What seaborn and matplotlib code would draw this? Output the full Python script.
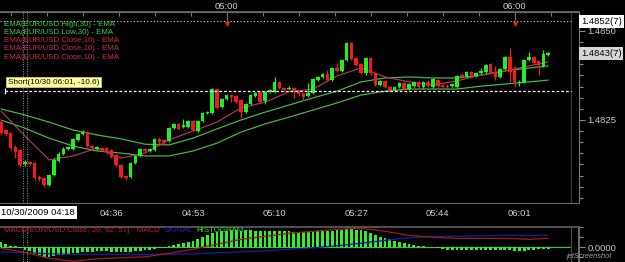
import numpy as np
import pandas as pd
import matplotlib
matplotlib.use("Agg")
import matplotlib.pyplot as plt
import matplotlib.transforms as mt
from matplotlib.ticker import FixedLocator
import seaborn as sns

# ---------------- data (EUR/USD 1-minute candles from 04:13) ----------------
start_time = "04:13"
opens = [1.48244, 1.48222, 1.48213, 1.48174, 1.48166, 1.48126, 1.48132, 1.48129, 1.48090, 1.48087,
         1.48067, 1.48095, 1.48135, 1.48154, 1.48168, 1.48168, 1.48194, 1.48211, 1.48216, 1.48177,
         1.48168, 1.48171, 1.48171, 1.48166, 1.48152, 1.48123, 1.48093, 1.48090, 1.48129, 1.48149,
         1.48168, 1.48163, 1.48166, 1.48197, 1.48194, 1.48191, 1.48227, 1.48239, 1.48230, 1.48230,
         1.48247, 1.48219, 1.48247, 1.48270, 1.48270, 1.48337, 1.48286, 1.48309, 1.48320, 1.48317,
         1.48306, 1.48272, 1.48295, 1.48317, 1.48329, 1.48303, 1.48329, 1.48329, 1.48357, 1.48340,
         1.48337, 1.48340, 1.48331, 1.48326, 1.48317, 1.48326, 1.48362, 1.48371, 1.48379, 1.48362,
         1.48396, 1.48388, 1.48419, 1.48466, 1.48424, 1.48407, 1.48382, 1.48424, 1.48382, 1.48348,
         1.48360, 1.48343, 1.48334, 1.48343, 1.48354, 1.48337, 1.48345, 1.48357, 1.48343, 1.48357,
         1.48343, 1.48362, 1.48348, 1.48345, 1.48345, 1.48343, 1.48376, 1.48371, 1.48385, 1.48374,
         1.48382, 1.48385, 1.48407, 1.48385, 1.48371, 1.48393, 1.48427, 1.48396, 1.48354, 1.48357,
         1.48419, 1.48427, 1.48416, 1.48402, 1.48433]
highs = [1.48250, 1.48225, 1.48216, 1.48180, 1.48168, 1.48138, 1.48135, 1.48132, 1.48095, 1.48090,
         1.48098, 1.48143, 1.48160, 1.48174, 1.48177, 1.48199, 1.48213, 1.48222, 1.48219, 1.48180,
         1.48177, 1.48174, 1.48174, 1.48168, 1.48154, 1.48126, 1.48095, 1.48132, 1.48152, 1.48171,
         1.48171, 1.48171, 1.48199, 1.48202, 1.48197, 1.48230, 1.48241, 1.48241, 1.48253, 1.48250,
         1.48250, 1.48250, 1.48272, 1.48275, 1.48340, 1.48340, 1.48312, 1.48323, 1.48323, 1.48320,
         1.48309, 1.48298, 1.48323, 1.48329, 1.48331, 1.48331, 1.48337, 1.48371, 1.48360, 1.48343,
         1.48345, 1.48343, 1.48334, 1.48329, 1.48354, 1.48368, 1.48374, 1.48382, 1.48390, 1.48399,
         1.48410, 1.48421, 1.48469, 1.48469, 1.48427, 1.48410, 1.48427, 1.48427, 1.48385, 1.48362,
         1.48362, 1.48345, 1.48345, 1.48357, 1.48357, 1.48354, 1.48360, 1.48360, 1.48360, 1.48362,
         1.48368, 1.48365, 1.48351, 1.48351, 1.48354, 1.48376, 1.48382, 1.48388, 1.48388, 1.48385,
         1.48396, 1.48407, 1.48410, 1.48402, 1.48396, 1.48430, 1.48452, 1.48402, 1.48362, 1.48421,
         1.48441, 1.48430, 1.48419, 1.48447, 1.48441]
lows = [1.48208, 1.48205, 1.48166, 1.48143, 1.48118, 1.48121, 1.48123, 1.48081, 1.48078, 1.48062,
        1.48064, 1.48093, 1.48132, 1.48152, 1.48166, 1.48166, 1.48191, 1.48208, 1.48174, 1.48168,
        1.48166, 1.48163, 1.48154, 1.48143, 1.48121, 1.48087, 1.48081, 1.48087, 1.48126, 1.48146,
        1.48160, 1.48160, 1.48163, 1.48180, 1.48180, 1.48188, 1.48225, 1.48222, 1.48227, 1.48227,
        1.48219, 1.48216, 1.48244, 1.48267, 1.48267, 1.48281, 1.48284, 1.48306, 1.48300, 1.48298,
        1.48256, 1.48270, 1.48292, 1.48315, 1.48298, 1.48295, 1.48326, 1.48326, 1.48337, 1.48331,
        1.48334, 1.48312, 1.48317, 1.48306, 1.48315, 1.48323, 1.48360, 1.48368, 1.48360, 1.48360,
        1.48385, 1.48385, 1.48416, 1.48419, 1.48402, 1.48379, 1.48376, 1.48376, 1.48345, 1.48345,
        1.48340, 1.48331, 1.48331, 1.48340, 1.48334, 1.48334, 1.48343, 1.48340, 1.48340, 1.48343,
        1.48340, 1.48343, 1.48340, 1.48340, 1.48343, 1.48340, 1.48368, 1.48368, 1.48371, 1.48371,
        1.48379, 1.48382, 1.48379, 1.48362, 1.48368, 1.48390, 1.48357, 1.48343, 1.48345, 1.48354,
        1.48416, 1.48407, 1.48376, 1.48399, 1.48430]
closes = [1.48213, 1.48211, 1.48171, 1.48160, 1.48123, 1.48132, 1.48126, 1.48087, 1.48084, 1.48067,
          1.48095, 1.48138, 1.48154, 1.48168, 1.48174, 1.48197, 1.48211, 1.48216, 1.48177, 1.48171,
          1.48174, 1.48166, 1.48160, 1.48146, 1.48123, 1.48090, 1.48087, 1.48129, 1.48149, 1.48168,
          1.48163, 1.48168, 1.48197, 1.48188, 1.48188, 1.48227, 1.48239, 1.48225, 1.48236, 1.48247,
          1.48222, 1.48247, 1.48270, 1.48272, 1.48337, 1.48284, 1.48309, 1.48320, 1.48315, 1.48300,
          1.48272, 1.48295, 1.48320, 1.48326, 1.48300, 1.48329, 1.48334, 1.48357, 1.48340, 1.48334,
          1.48340, 1.48329, 1.48323, 1.48315, 1.48326, 1.48365, 1.48371, 1.48379, 1.48362, 1.48396,
          1.48388, 1.48419, 1.48466, 1.48421, 1.48404, 1.48382, 1.48424, 1.48382, 1.48348, 1.48360,
          1.48343, 1.48334, 1.48343, 1.48354, 1.48337, 1.48351, 1.48357, 1.48343, 1.48357, 1.48345,
          1.48365, 1.48345, 1.48343, 1.48343, 1.48351, 1.48374, 1.48371, 1.48385, 1.48374, 1.48382,
          1.48388, 1.48404, 1.48382, 1.48371, 1.48393, 1.48427, 1.48385, 1.48357, 1.48357, 1.48419,
          1.48427, 1.48410, 1.48404, 1.48435, 1.48438]

# indicator lines, read every 5 candles
line_k = [0, 5, 10, 15, 20, 25, 30, 35, 40, 45, 50, 55, 60, 65, 70, 75, 80, 85, 90, 95, 100, 105, 110, 114]
ema_high30 = [1.48281, 1.48264, 1.48244, 1.48222, 1.48208, 1.48197, 1.48182, 1.48180, 1.48199, 1.48225,
              1.48250, 1.48272, 1.48292, 1.48312, 1.48331, 1.48357, 1.48368, 1.48371, 1.48368, 1.48368,
              1.48376, 1.48388, 1.48396, 1.48402]
ema_low30 = [1.48250, 1.48227, 1.48199, 1.48177, 1.48163, 1.48157, 1.48149, 1.48149, 1.48163, 1.48185,
             1.48216, 1.48239, 1.48258, 1.48278, 1.48298, 1.48320, 1.48331, 1.48337, 1.48337, 1.48337,
             1.48345, 1.48351, 1.48357, 1.48362]
ema_close10 = [1.48275, 1.48205, 1.48138, 1.48149, 1.48171, 1.48143, 1.48157, 1.48194, 1.48219, 1.48244,
               1.48284, 1.48300, 1.48329, 1.48337, 1.48374, 1.48396, 1.48371, 1.48357, 1.48348, 1.48360,
               1.48376, 1.48388, 1.48402, 1.48413]
macd_line = [-1e-5, -5e-5, -11e-5, -14e-5, -11.5e-5, -10.5e-5, -9.5e-5, -6e-5, -2e-5, 3e-5,
             8e-5, 11e-5, 14e-5, 16e-5, 18e-5, 19e-5, 16e-5, 12e-5, 10e-5, 9e-5,
             9e-5, 9e-5, 8e-5, 9e-5]
signal_line = [-4.5e-5, -5.5e-5, -6.5e-5, -7e-5, -7e-5, -7e-5, -7e-5, -7e-5, -6.5e-5, -5.5e-5,
               -4.5e-5, -3.5e-5, -2e-5, -0.5e-5, 1.5e-5, 4e-5, 7e-5, 9.5e-5, 11e-5, 11e-5,
               11.5e-5, 12e-5, 12e-5, 12e-5]
histogram = [5.5e-5, 3e-5, 1.5e-5, 1e-5, -1e-5, -3e-5, -4e-5, -7e-5, -8e-5, -9.5e-5,
             -9.5e-5, -9e-5, -8e-5, -8e-5, -7e-5, -6e-5, -6e-5, -5e-5, -5e-5, -4.5e-5,
             -4e-5, -4e-5, -4e-5, -4.5e-5, -5e-5, -5e-5, -5e-5, -5e-5, -4e-5, -4e-5,
             -3e-5, -3e-5, -2e-5, -1e-5, -0.5e-5, 1e-5, 2e-5, 3e-5, 4e-5, 5e-5,
             6e-5, 8e-5, 10e-5, 12e-5, 14e-5, 15e-5, 16e-5, 16e-5, 17e-5, 17e-5,
             16.5e-5, 17e-5, 17e-5, 16.5e-5, 16.5e-5, 16.5e-5, 16e-5, 16.5e-5, 16.5e-5, 16e-5,
             16e-5, 15.5e-5, 15.5e-5, 15.5e-5, 15.5e-5, 16e-5, 16e-5, 16e-5, 16e-5, 16.5e-5,
             17e-5, 17e-5, 18e-5, 18e-5, 17.5e-5, 17e-5, 16e-5, 14e-5, 12e-5, 10.5e-5,
             9e-5, 8e-5, 6.5e-5, 5e-5, 4e-5, 3e-5, 2.5e-5, 1.5e-5, 1e-5, 0.5e-5,
             0.3e-5, -1e-5, -2e-5, -2.5e-5, -2.5e-5, -2.5e-5, -2.5e-5, -2.5e-5, -2.5e-5, -2.5e-5,
             -2.5e-5, -2.5e-5, -2.5e-5, -3e-5, -3e-5, -3e-5, -3e-5, -3.5e-5, -4e-5, -3.5e-5,
             -3e-5, -2.5e-5, -2e-5, -2e-5, -1.5e-5]

bottom_ticks = ["04:19", "04:36", "04:53", "05:10", "05:27", "05:44", "06:01"]
top_labels = ["05:00", "06:00"]
price_labels = [1.4825, 1.4850]
stop_price = 1.48527
last_price = 1.48437
short_price = 1.48331
short_text = "Short(10/30 06:01, -10.6)"
cursor_time = "04:18"
cursor_label = "10/30/2009 04:18"
legend_main = ["EMA(EUR/USD.High,30) - EMA", "EMA(EUR/USD.Low,30) - EMA",
               "EMA(EUR/USD.Close,10) - EMA", "EMA(EUR/USD.Close,10) - EMA",
               "EMA(EUR/USD.Close,10) - EMA"]
legend_main_colors = ["#3ccf3c", "#3ccf3c", "#d42a2a", "#c8286a", "#d42a55"]
legend_macd = ["MACD(EUR/USD.Close, 20, 62, 57) - MACD", "SIGNAL", "HISTOGRAM"]
legend_macd_colors = ["#c42020", "#2424b4", "#33dd33"]


def minutes(s):
    h, m = s.split(":")
    return int(h) * 60 + int(m)


def kpos(s):
    return minutes(s) - minutes(start_time)


def pipfmt(p):
    s = f"{p:.5f}"
    return s[:6] + "(" + s[6] + ")"


# ---------------- style ----------------
sns.set_theme(style="dark", rc={"axes.facecolor": "black", "figure.facecolor": "black",
                                "axes.grid": False})
plt.rcParams["font.family"] = ["Liberation Sans Narrow", "Liberation Sans", "DejaVu Sans"]

GREEN = "#22ee22"
RED = "#ee1c1c"
W, H = 625, 262
fig = plt.figure(figsize=(W / 100, H / 100), dpi=100, facecolor="black")


def rect(x0, y0, x1, y1):
    return [x0 / W, 1 - y1 / H, (x1 - x0) / W, (y1 - y0) / H]


def fx(px):
    return px / W


def fy(py):
    return 1 - py / H


ax = fig.add_axes(rect(0, 12, 579, 203))
axm = fig.add_axes(rect(0, 227, 579, 262))

n = len(closes)
df = pd.DataFrame({"k": np.arange(n), "open": opens, "high": highs, "low": lows, "close": closes})
XMIN, XMAX = -0.21, 120.42
RIGHT_EDGE = 118.75

# ---------------- main panel ----------------
up = df["close"] >= df["open"]
cols = np.where(up, GREEN, RED)
ax.vlines(df["k"], df["low"], df["high"], colors=cols, lw=0.9, zorder=3)
body = np.maximum((df["close"] - df["open"]).abs(), 0.00003)
ax.bar(df["k"], body, bottom=np.minimum(df["open"], df["close"]), width=0.75,
       color=cols, linewidth=0, zorder=4)

lines = pd.DataFrame({"k": line_k, "hi": ema_high30, "lo": ema_low30, "cl": ema_close10})
sns.lineplot(data=lines, x="k", y="hi", ax=ax, color="#46b446", lw=0.9, zorder=2)
sns.lineplot(data=lines, x="k", y="lo", ax=ax, color="#46b446", lw=0.9, zorder=2)
sns.lineplot(data=lines, x="k", y="cl", ax=ax, color="#a8385a", lw=0.9, zorder=2)

ax.hlines(stop_price, XMIN, RIGHT_EDGE, colors="#cfcfcf", linestyles=(0, (1, 2)), lw=0.8, zorder=5)
ax.hlines(short_price, 0.83, RIGHT_EDGE, colors="white", linestyles=(0, (2.2, 1.6)), lw=0.9, zorder=5)
ax.plot([0.83], [short_price], marker="|", color="white", ms=5, mew=0.9, zorder=6)
ax.axvline(RIGHT_EDGE, color="#3a3a3a", lw=0.8)

top_k = [kpos(s) for s in top_labels]
ax.scatter(top_k, [1.48520] * len(top_k), marker="v", color="#ee2020", s=16, zorder=7, linewidths=0)

ck = kpos(cursor_time)
for axx in (ax, axm):
    for dx in (-0.5, 0.5):
        axx.axvline(ck + dx, color="#9a9a9a", lw=0.7, linestyle=(0, (1, 1.5)), zorder=6)

ax.set_xlim(XMIN, XMAX)
ax.set_ylim(1.4801685, 1.4855337)
ax.set_xlabel("")
ax.set_ylabel("")

bk = [kpos(s) for s in bottom_ticks]
ax.set_xticks(bk)
# first label sits under the cursor date box
ax.set_xticklabels([""] + bottom_ticks[1:])
ax.xaxis.set_minor_locator(FixedLocator(np.arange(bk[0] - 3.4, XMAX, 3.4)))
ax.tick_params(axis="x", which="major", direction="in", length=6, width=0.8, color="#7a7a7a",
               labelcolor="#d0d0d0", labelsize=6.8, pad=4)
ax.tick_params(axis="x", which="minor", direction="in", length=3, width=0.8, color="#7a7a7a")

ax.yaxis.tick_right()
ax.set_yticks(price_labels)
ax.set_yticklabels([f"{p:.4f}" for p in price_labels])
ax.yaxis.set_minor_locator(FixedLocator(np.arange(1.4800, 1.4860, 0.0003125)))
ax.tick_params(axis="y", which="major", direction="out", length=4, width=0.8, color="#8a8a8a",
               labelcolor="#c8c8c8", labelsize=6.8, pad=2)
ax.tick_params(axis="y", which="minor", direction="out", length=3, width=0.8, color="#8a8a8a")

sec = ax.secondary_xaxis("top")
sec.set_xticks(top_k)
sec.set_xticklabels(top_labels)
sec.xaxis.set_minor_locator(FixedLocator(np.arange(2, XMAX, 7.5)))
sec.tick_params(which="major", direction="in", length=6, width=0.8, color="#7a7a7a",
                labelcolor="#d0d0d0", labelsize=6.8, pad=1)
sec.tick_params(which="minor", direction="in", length=3, width=0.8, color="#7a7a7a")
sec.spines["top"].set_color("#6a6a6a")

ax.spines["left"].set_visible(False)
ax.spines["top"].set_color("#6a6a6a")
ax.spines["bottom"].set_color("#6a6a6a")
ax.spines["right"].set_color("#7a7a7a")
for s in ax.spines.values():
    s.set_linewidth(0.8)

# right-side price boxes
tr = mt.blended_transform_factory(ax.transAxes, ax.transData)
ax.text(1.0 + 2 / 579, stop_price, pipfmt(stop_price), transform=tr, ha="left",
        va="center", fontsize=6.8, color="black", clip_on=False,
        bbox=dict(facecolor="white", edgecolor="none", pad=1.2))
ax.text(1.0 + 2 / 579, last_price, pipfmt(last_price), transform=tr, ha="left",
        va="center", fontsize=6.8, color="black", clip_on=False,
        bbox=dict(facecolor="#d6d6d6", edgecolor="none", pad=1.2))

# legend (main)
for i, (t, c) in enumerate(zip(legend_main, legend_main_colors)):
    fig.text(fx(4), fy(24 + i * 8.3), t, color=c, fontsize=5.7, va="center", ha="left")

fig.text(fx(8), fy(82), short_text, color="black", fontsize=5.9, va="center", ha="left",
         bbox=dict(facecolor="#ffff9c", edgecolor="#c8c880", pad=1.3, lw=0.6))
fig.text(fx(1), fy(212.5), cursor_label, color="black", fontsize=6.8, va="center", ha="left",
         bbox=dict(facecolor="white", edgecolor="none", pad=1.8))

# ---------------- MACD panel ----------------
axm.bar(df["k"], histogram, width=0.62, color="#33ee33", linewidth=0, zorder=3)
axm.hlines(0, XMIN, RIGHT_EDGE, colors="#3cc83c", lw=0.8, zorder=2)
mac = pd.DataFrame({"k": line_k, "macd": macd_line, "signal": signal_line})
sns.lineplot(data=mac, x="k", y="signal", ax=axm, color="#1c1ca8", lw=0.9, zorder=4)
sns.lineplot(data=mac, x="k", y="macd", ax=axm, color="#a01c1c", lw=0.9, zorder=5)
axm.axvline(RIGHT_EDGE, color="#4a4a4a", lw=0.8)
axm.set_xlim(XMIN, XMAX)
axm.set_ylim(-14.7e-5, 20.3e-5)
axm.set_xlabel("")
axm.set_ylabel("")
axm.set_xticks([])
axm.yaxis.tick_right()
axm.set_yticks([0])
axm.set_yticklabels(["0.0000"])
axm.yaxis.set_minor_locator(FixedLocator([-1e-4, 1e-4, 2e-4]))
axm.tick_params(axis="y", which="major", direction="out", length=4, width=0.8, color="#8a8a8a",
                labelcolor="#c8c8c8", labelsize=6.8, pad=2)
axm.tick_params(axis="y", which="minor", direction="out", length=3, width=0.8, color="#8a8a8a")
axm.spines["left"].set_visible(False)
axm.spines["bottom"].set_visible(False)
axm.spines["top"].set_color("#5a5a5a")
axm.spines["right"].set_color("#7a7a7a")

# MACD legend, chained left to right
renderer = fig.canvas.get_renderer()
xpos = 4
for t, c in zip(legend_macd, legend_macd_colors):
    txt = fig.text(fx(xpos), fy(231), t, color=c, fontsize=5.7, va="center", ha="left")
    bb = txt.get_window_extent(renderer)
    xpos += bb.width + 4

fig.text(fx(567), fy(256.5), "jetScreenshot", color="#a0a0a0", fontsize=5.3, style="italic",
         va="center", ha="left")

fig.savefig("out.png", dpi=100, facecolor="black")
